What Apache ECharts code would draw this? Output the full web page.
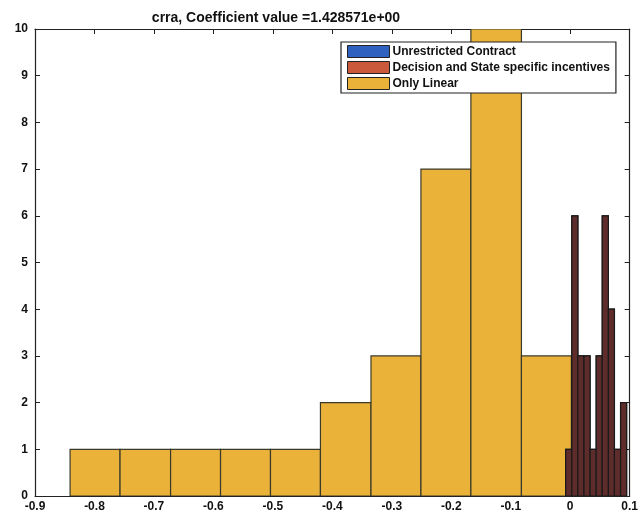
<!DOCTYPE html>
<html><head><meta charset="utf-8">
<script src="https://cdn.jsdelivr.net/npm/echarts@6/dist/echarts.min.js"></script>
<style>html,body{margin:0;padding:0;background:#fff}#c{width:641px;height:519px}</style>
</head><body><div id="c"></div>
<script>
// Data
const titleText = 'crra, Coefficient value =1.428571e+00';
const seriesNames = ['Unrestricted Contract', 'Decision and State specific incentives', 'Only Linear'];
// Only Linear histogram: bin edges and counts
const linearEdges = [-0.841, -0.757, -0.672, -0.588, -0.504, -0.420, -0.335, -0.251, -0.167, -0.082, 0.002];
const linearCounts = [1, 1, 1, 1, 1, 2, 3, 7, 10, 3];
// Decision and State specific incentives histogram
const decisionEdges = [-0.0076, 0.0027, 0.0129, 0.0232, 0.0334, 0.0437, 0.0539, 0.0642, 0.0744, 0.0847, 0.0949];
const decisionCounts = [1, 6, 3, 3, 1, 3, 6, 4, 1, 2];
// Unrestricted Contract histogram (hidden beneath the red bars)
const unrestrictedEdges = [-0.0076, 0.0027, 0.0129, 0.0232, 0.0334, 0.0437, 0.0539, 0.0642, 0.0744, 0.0847, 0.0949];
const unrestrictedCounts = [1, 6, 3, 3, 1, 3, 6, 4, 1, 2];
const xTicks = [-0.9, -0.8, -0.7, -0.6, -0.5, -0.4, -0.3, -0.2, -0.1, 0, 0.1];
const yTicks = [0, 1, 2, 3, 4, 5, 6, 7, 8, 9, 10];

function toBins(edges, counts) {
  return counts.map((c, i) => [edges[i], edges[i + 1], c]);
}
function histSeries(name, edges, counts, fill, stroke) {
  return {
    name: name, type: 'custom', clip: true,
    itemStyle: { color: fill },
    encode: { x: [0, 1], y: 2 },
    data: toBins(edges, counts),
    renderItem: function (params, api) {
      const p0 = api.coord([api.value(0), api.value(2)]);
      const p1 = api.coord([api.value(1), 0]);
      return {
        type: 'rect',
        shape: { x: p0[0], y: p0[1], width: p1[0] - p0[0], height: p1[1] - p0[1] },
        style: { fill: fill, stroke: stroke, lineWidth: 1.2 }
      };
    }
  };
}
const font = 'Liberation Sans, Arial, sans-serif';
const chart = echarts.init(document.getElementById('c'));
const axisLine = { show: true, onZero: false, lineStyle: { color: '#222', width: 1.2 } };
const tick = { show: true, inside: true, length: 5, lineStyle: { color: '#222' } };
chart.setOption({
  animation: false,
  backgroundColor: '#fff',
  title: { text: titleText, left: 271, top: 6, textAlign: 'center',
    textStyle: { fontFamily: font, fontSize: 14, fontWeight: 'bold', color: '#111' } },
  legend: {
    orient: 'vertical', left: 341, top: 42, width: 277,
    padding: [3, 6, 3, 6], itemGap: 3, itemWidth: 42, itemHeight: 12,
    borderColor: '#222', borderWidth: 1.2, backgroundColor: '#fff',
    textStyle: { fontFamily: font, fontSize: 12, fontWeight: 'bold', color: '#111', padding: [0, 0, 0, -2] },
    icon: 'rect',
    data: [
      { name: seriesNames[0], itemStyle: { color: '#2f62c0', borderColor: '#222', borderWidth: 1 } },
      { name: seriesNames[1], itemStyle: { color: '#c9593a', borderColor: '#222', borderWidth: 1 } },
      { name: seriesNames[2], itemStyle: { color: '#ebb23a', borderColor: '#222', borderWidth: 1 } }
    ]
  },
  grid: { left: 35, right: 11, top: 29, bottom: 23 },
  xAxis: [{
    type: 'value', min: xTicks[0], max: xTicks[xTicks.length - 1], interval: 0.1,
    axisLine: axisLine, splitLine: { show: false }, axisTick: tick,
    axisLabel: { fontFamily: font, fontSize: 12, fontWeight: 'bold', color: '#111', margin: 5,
      formatter: v => String(Math.round(v * 10) / 10) }
  }, {
    type: 'value', position: 'top', min: xTicks[0], max: xTicks[xTicks.length - 1], interval: 0.1,
    axisLine: axisLine, splitLine: { show: false }, axisTick: tick,
    axisLabel: { show: false }
  }],
  yAxis: [{
    type: 'value', min: yTicks[0], max: yTicks[yTicks.length - 1], interval: 1,
    axisLine: axisLine, splitLine: { show: false }, axisTick: tick,
    axisLabel: { fontFamily: font, fontSize: 12, fontWeight: 'bold', color: '#111', margin: 7 }
  }, {
    type: 'value', position: 'right', min: yTicks[0], max: yTicks[yTicks.length - 1], interval: 1,
    axisLine: axisLine, splitLine: { show: false }, axisTick: tick,
    axisLabel: { show: false }
  }],
  series: [
    histSeries(seriesNames[2], linearEdges, linearCounts, '#ebb23a', '#3a3a2a'),
    histSeries(seriesNames[0], unrestrictedEdges, unrestrictedCounts, '#2f62c0', '#1a1a1a'),
    histSeries(seriesNames[1], decisionEdges, decisionCounts, '#5e2c2a', '#1a1a1a')
  ]
});
</script></body></html>
